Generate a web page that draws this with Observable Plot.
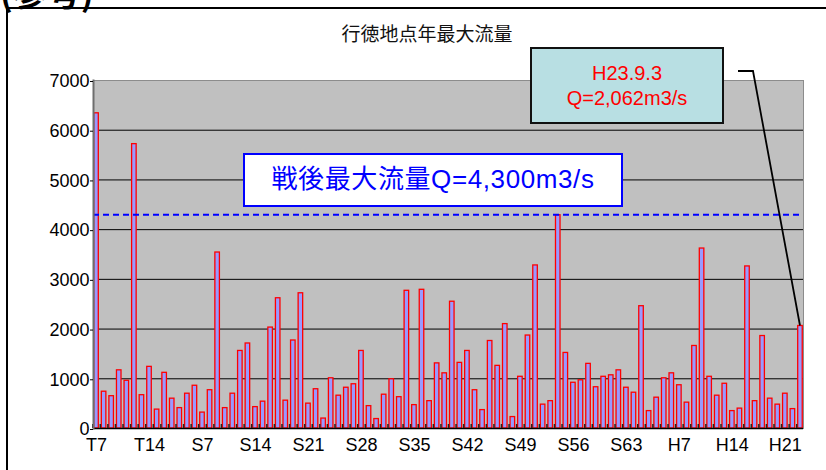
<!DOCTYPE html>
<html>
<head>
<meta charset="utf-8">
<script src="https://cdn.jsdelivr.net/npm/d3@7"></script>
<script src="https://cdn.jsdelivr.net/npm/@observablehq/plot@0.6"></script>
<style>
  html, body { margin: 0; padding: 0; background: #fff; }
  #wrap { position: relative; width: 826px; height: 470px; overflow: hidden; font-family: "Liberation Sans", Arial, "Noto Sans CJK JP", sans-serif; }
  #wrap svg { position: absolute; left: 0; top: 0; }
  .ov { position: absolute; box-sizing: border-box; }
</style>
</head>
<body>
<div id="wrap"></div>
<script>
// ---- data ----
const years = d3.range(1918, 2012); // T7 (1918) .. H23 (2011)
const flows = [
  6340, 740, 650, 1170, 960, 5720, 670, 1240, 380, 1120,
  600, 410, 700, 860, 320, 770, 3540, 410, 700, 1560,
  1710, 430, 540, 2030, 2620, 560, 1770, 2720, 500, 790,
  200, 1010, 660, 820, 890, 1560, 450, 190, 680, 990,
  630, 2770, 470, 2790, 550, 1310, 1110, 2550, 1320, 1560,
  770, 370, 1760, 1260, 2100, 230, 1040, 1870, 3280, 480,
  550, 4290, 1520, 920, 970, 1300, 830, 1040, 1070, 1170,
  820, 720, 2460, 350, 620, 1010, 1110, 870, 520, 1660,
  3620, 1040, 660, 900, 350, 400, 3260, 550, 1860, 600,
  480, 700, 390, 2062
];
const tickYears = [1918, 1925, 1932, 1939, 1946, 1953, 1960, 1967, 1974, 1981, 1988, 1995, 2002, 2009];
const tickLabels = ["T7", "T14", "S7", "S14", "S21", "S28", "S35", "S42", "S49", "S56", "S63", "H7", "H14", "H21"];
const yTicks = [0, 1000, 2000, 3000, 4000, 5000, 6000, 7000];
const gridLines = [1000, 2000, 3000, 4000, 5000, 6000];
const postwarMax = 4300;
const latestYear = 2011;
const latestFlow = 2062;

const table = years.map((y, i) => ({year: y, flow: flows[i]}));
const labelOf = new Map(tickYears.map((y, i) => [y, tickLabels[i]]));

// leader line from annotation box to the latest bar
function leader(index, scales, values, dimensions, context) {
  const sx = scales.scales && scales.scales.x;
  const bw = (sx && sx.bandwidth) || (typeof scales.x.bandwidth === "function" ? scales.x.bandwidth() : scales.x.bandwidth) || 0;
  const bx = scales.x(latestYear) + bw / 2;
  const by = scales.y(latestFlow);
  const p = d3.create("svg:path")
    .attr("d", `M738,71L753,71L${bx},${by}`)
    .attr("fill", "none").attr("stroke", "black").attr("stroke-width", 1.8);
  return p.node();
}

const chart = Plot.plot({
  width: 826,
  height: 470,
  marginLeft: 93,
  marginRight: 23,
  marginTop: 80,
  marginBottom: 42,
  style: {fontFamily: "'Liberation Sans', Arial, sans-serif", background: "transparent"},
  x: {type: "band", domain: years, paddingInner: 0.4, paddingOuter: 0.1, align: 0.5},
  y: {domain: [0, 7000]},
  marks: [
    Plot.frame({fill: "#c0c0c0", stroke: "#8c8c8c", strokeWidth: 1}),
    Plot.ruleY(gridLines, {stroke: "black", strokeWidth: 1}),
    Plot.barY(table, {x: "year", y: "flow", fill: "#9999ff", stroke: "#ff0000", strokeWidth: 1.3}),
    Plot.ruleY([postwarMax], {stroke: "#0000ff", strokeWidth: 2, strokeDasharray: "6,4"}),
    Plot.ruleY([0], {stroke: "black", strokeWidth: 1.5}),
    Plot.ruleX(years, {x: d => d, dx: -3.78, y1: 0, y2: 80, stroke: "#222", strokeWidth: 1.5}),
    Plot.frame({anchor: "left", stroke: "#6e6e6e", strokeWidth: 2}),
    Plot.axisY({ticks: yTicks, tickFormat: d => String(d), tickSize: 3, tickPadding: 1, fontSize: 18, dy: 1, label: null, fill: "black"}),
    Plot.axisX({ticks: tickYears, tickFormat: d => labelOf.get(d), tickSize: 0, tickPadding: 10, fontSize: 18, label: null, fill: "black", style: {letterSpacing: "1px"}}),
    leader
  ]
});
const wrap = document.getElementById("wrap");
wrap.appendChild(chart);

function ov(html, css) {
  const d = document.createElement("div");
  d.className = "ov";
  d.style.cssText = css;
  d.innerHTML = html;
  wrap.appendChild(d);
}
// outer frame (top & left edges)
ov("", "left:6px;top:7px;width:830px;height:480px;border-top:2px solid #000;border-left:2px solid #000;");
// cut-off heading at top-left
ov("(参考)", "left:0px;top:-25px;font-size:34px;font-weight:bold;line-height:1;font-family:'Noto Sans CJK JP',sans-serif;color:#000;white-space:nowrap;");
// title
ov("行徳地点年最大流量", "left:0;width:854px;top:22px;text-align:center;font-size:19px;line-height:22px;font-family:'Noto Sans CJK JP',sans-serif;color:#111;");
// postwar max box
ov("戦後最大流量Q=4,300m3/s", "left:243px;top:153px;width:380px;height:54px;background:#fff;border:2.5px solid #0000ff;color:#0000ff;font-size:26px;line-height:49px;text-align:center;font-family:'Liberation Sans','Noto Sans CJK JP',sans-serif;white-space:nowrap;letter-spacing:0.6px;");
// latest flood box
ov("H23.9.3<br>Q=2,062m3/s", "left:530px;top:47px;width:194px;height:77px;background:#b8dfe3;border:2px solid #111;color:#ff0000;font-size:20px;line-height:25px;padding-top:12px;text-align:center;font-family:'Liberation Sans',sans-serif;");
</script>
</body>
</html>
